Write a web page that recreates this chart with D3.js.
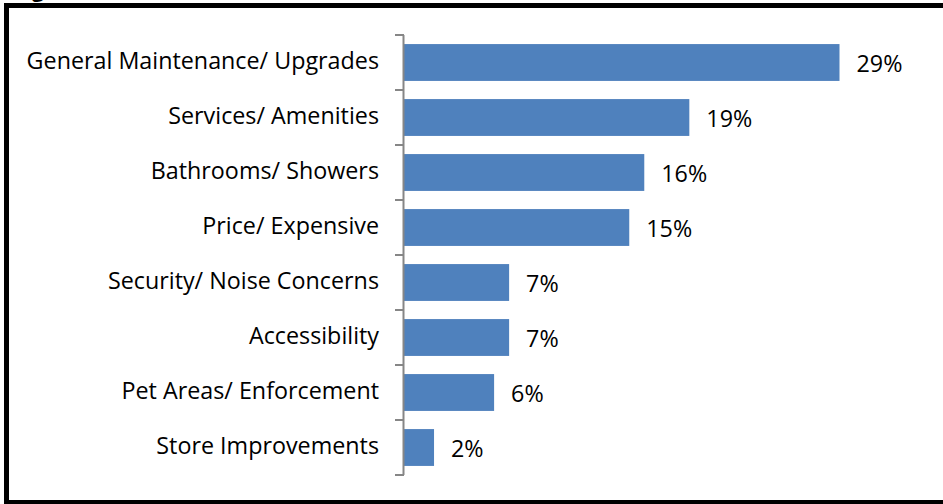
<!DOCTYPE html>
<html>
<head>
<meta charset="utf-8">
<script src="https://cdn.jsdelivr.net/npm/d3@7"></script>
<style>
  html, body { margin: 0; padding: 0; background: #fff; }
  svg { display: block; }
  text { font-family: "Open Sans", "Liberation Sans", sans-serif; fill: #000; }
</style>
</head>
<body>
<svg id="chart" width="943" height="504"></svg>
<script>
// Reasons given for improvement, share of responses (%)
const categories = [
  "General Maintenance/ Upgrades",
  "Services/ Amenities",
  "Bathrooms/ Showers",
  "Price/ Expensive",
  "Security/ Noise Concerns",
  "Accessibility",
  "Pet Areas/ Enforcement",
  "Store Improvements"
];
const values = [29, 19, 16, 15, 7, 7, 6, 2];
const valueLabels = ["29%", "19%", "16%", "15%", "7%", "7%", "6%", "2%"];

const svg = d3.select("#chart");
const fontSize = 23.3;

// Frame around the figure
svg.append("rect")
  .attr("x", 6.5).attr("y", 5.5)
  .attr("width", 960).attr("height", 497)
  .attr("fill", "none").attr("stroke", "#000").attr("stroke-width", 5);

// Title (sits above the frame, mostly outside the page)
svg.append("text")
  .attr("x", 14).attr("y", -3)
  .attr("font-size", 21).attr("font-weight", "bold")
  .text("Figure");

const x = d3.scaleLinear().domain([0, 29]).range([404, 839.5]);
const y = d3.scaleBand().domain(categories).range([35, 475])
  .paddingInner(0.33).paddingOuter(0.165);

// Bars
svg.append("g").selectAll("rect")
  .data(categories)
  .join("rect")
  .attr("x", x(0))
  .attr("y", d => y(d))
  .attr("width", (d, i) => x(values[i]) - x(0))
  .attr("height", y.bandwidth())
  .attr("fill", "#4F81BD");

// Category axis: line with ticks on band boundaries
const axisColor = "#868686";
const step = y.step();
const edges = d3.range(categories.length + 1).map(i => 35 + i * step);
const ax = svg.append("g");
ax.append("line")
  .attr("x1", 403.5).attr("x2", 403.5)
  .attr("y1", edges[0]).attr("y2", edges[edges.length - 1])
  .attr("stroke", axisColor).attr("stroke-width", 2);
ax.selectAll("line.tick")
  .data(edges)
  .join("line")
  .attr("class", "tick")
  .attr("x1", 395).attr("x2", 404)
  .attr("y1", d => d).attr("y2", d => d)
  .attr("stroke", axisColor).attr("stroke-width", 2);

// Category labels
svg.append("g").selectAll("text")
  .data(categories)
  .join("text")
  .attr("x", 379)
  .attr("y", d => y(d) + y.bandwidth() / 2 + 6.5)
  .attr("text-anchor", "end")
  .attr("font-size", fontSize)
  .text(d => d);

// Value labels
svg.append("g").selectAll("text")
  .data(categories)
  .join("text")
  .attr("x", (d, i) => x(values[i]) + 17)
  .attr("y", d => y(d) + y.bandwidth() / 2 + 9.5)
  .attr("font-size", fontSize)
  .text((d, i) => valueLabels[i]);
</script>
</body>
</html>
